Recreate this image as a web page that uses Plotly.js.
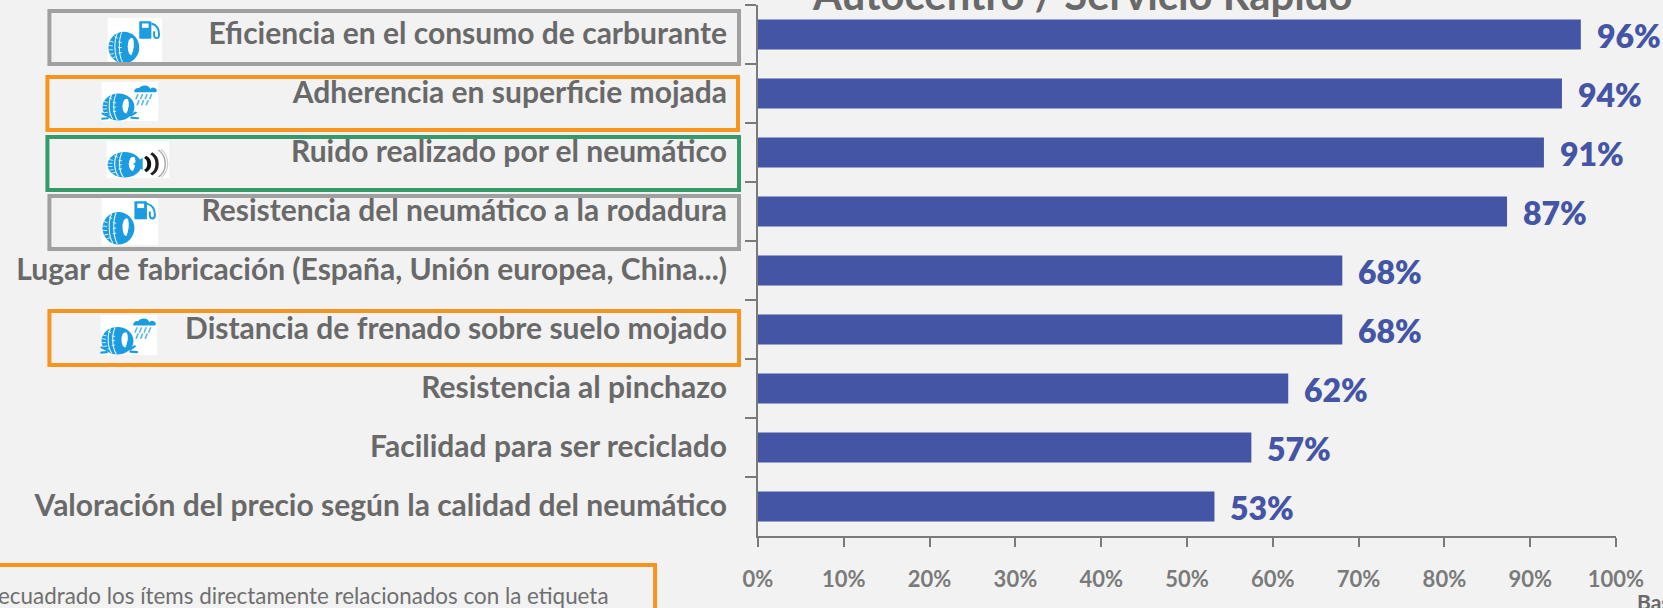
<!DOCTYPE html>
<html><head><meta charset="utf-8">
<script src="https://cdn.plot.ly/plotly-3.0.1.min.js"></script>
<style>html,body{margin:0;padding:0;background:#f2f2f2;overflow:hidden}#c{width:1663px;height:608px}</style>
</head><body><div id="c"></div>
<script>
const categories = [
  "Eficiencia en el consumo de carburante",
  "Adherencia en superficie mojada",
  "Ruido realizado por el neumático",
  "Resistencia del neumático a la rodadura",
  "Lugar de fabricación (España, Unión europea, China...)",
  "Distancia de frenado sobre suelo mojado",
  "Resistencia al pinchazo",
  "Facilidad para ser reciclado",
  "Valoración del precio según la calidad del neumático"
];
const values = [95.9, 93.7, 91.6, 87.3, 68.1, 68.1, 61.8, 57.5, 53.2];
const valueLabels = ["96%","94%","91%","87%","68%","68%","62%","57%","53%"];
const titleText = "Autocentro / Servicio Rápido";
const noteText = "ecuadrado los ítems directamente relacionados con la etiqueta";
const baseText = "Base";

const W=1663,H=608,L=758,R=1616.5,T=5,B=536;
const xp=p=>(p-L)/(R-L), yp=p=>1-(p-T)/(B-T);
const GRAY="#a0a0a0",ORANGE="#f7941d",GREEN="#359a68",TXT="#696969",BLUE="#4455a5",ICON="#1b9ce0";

const box=(x0,y0,x1,y1,c)=>({type:"rect",xref:"paper",yref:"paper",x0:xp(x0),x1:xp(x1),y0:yp(y0),y1:yp(y1),line:{color:c,width:4},fillcolor:"rgba(0,0,0,0)",layer:"above"});
const shapes=[
  box(49,11,739,64,GRAY),
  box(47,77,738,130,ORANGE),
  box(47,137,739,190,GREEN),
  box(49,196,739,249,GRAY),
  box(49,311,739,365,ORANGE),
  box(-20,565,655,640,ORANGE)
];

function tire(){
  return `<ellipse cx="30" cy="54" rx="28" ry="29" fill="${ICON}"/>`+
  `<path d="M18 28C12 40 12 68 20 80M26 26C20 40 20 68 28 82" fill="none" stroke="#fff" stroke-width="1.8"/>`+
  `<path d="M4 42l7 2M3 50l7 1M3 58l7 0M5 66l7-1M9 73l6-2M13 34l6 3M20 44l6 1M20 54l6 0M20 64l6-1" stroke="#fff" stroke-width="1.5"/>`+
  `<ellipse cx="44" cy="52" rx="7" ry="16" fill="#fff"/>`+
  `<path d="M48 38C54 46 53 62 45 68C49 58 50 46 48 38Z" fill="${ICON}" stroke="${ICON}" stroke-width="2"/>`;
}
function svg(w,h,body){
  const s=`<svg xmlns="http://www.w3.org/2000/svg" width="${w*4}" height="${h*4}" viewBox="0 0 ${w} ${h}" preserveAspectRatio="none"><rect width="${w}" height="${h}" fill="#fff"/>${body}</svg>`;
  return "data:image/svg+xml;charset=utf-8,"+encodeURIComponent(s);
}
const pump=`<rect x="58" y="6" width="22" height="32" rx="1.5" fill="${ICON}"/><rect x="63" y="10" width="12" height="8" fill="#fff"/><path d="M80 10C91 13 94 22 94 30C94 39 85 39 85 30L85 24" fill="none" stroke="${ICON}" stroke-width="3.5"/>`;
const rain=`<path d="M58 22a7 7 0 0 1 8-9a11 11 0 0 1 20 2a6 6 0 0 1 10 7Z" fill="${ICON}"/>`+
  `<path d="M64 27l-3 9M72 27l-3 9M80 27l-3 9M88 27l-3 9M66 40l-3 9M74 40l-3 9M82 40l-3 9" stroke="${ICON}" stroke-width="3" stroke-linecap="round" opacity=".7"/>`+
  `<path d="M2 68l9 5M1 79l10-1M60 66l-8 6M64 78l-11-1" stroke="${ICON}" stroke-width="4.5" stroke-linecap="round"/>`;
const sound=`<path d="M44 52L60 38V66Z" fill="${ICON}"/>`+
  `<path d="M64 36C73 42 73 62 64 68" fill="none" stroke="#111" stroke-width="6.5"/>`+
  `<path d="M74 28C87 38 87 66 74 76" fill="none" stroke="#222" stroke-width="5.5"/>`+
  `<path d="M86 20C101 36 101 68 86 82" fill="none" stroke="#aaa" stroke-width="2.5"/><path d="M90 18C105 36 105 68 90 83" fill="none" stroke="#ccc" stroke-width="2"/>`;
const icon=(x0,y0,x1,y1,src)=>({source:src,xref:"paper",yref:"paper",x:xp(x0),y:yp(y0),sizex:xp(x1)-xp(x0),sizey:yp(y0)-yp(y1),xanchor:"left",yanchor:"top",sizing:"stretch",layer:"above"});
const srcPump=svg(100,84,tire()+pump), srcRain=svg(100,84,tire()+rain), srcSound=svg(104,84,tire()+sound);
const images=[
  icon(107,18,162,64,srcPump),
  icon(101,82,158,121,srcRain),
  icon(106,141,169,178,srcSound),
  icon(101,198,158,245,srcPump),
  icon(100,315,157,355,srcRain)
];

const FONT="Lato, Carlito, Arial, sans-serif";
const annotations=values.map((v,i)=>({x:v,y:categories[i],xref:"x",yref:"y",text:valueLabels[i],showarrow:false,xanchor:"left",yanchor:"middle",xshift:14,yshift:-1,font:{family:FONT,size:32,color:BLUE,weight:800}}));
annotations.push({xref:"paper",yref:"paper",x:xp(611),y:yp(595),text:noteText,showarrow:false,xanchor:"right",yanchor:"middle",font:{family:FONT,size:22.4,color:"#6f6f6f"}});
annotations.push({xref:"paper",yref:"paper",x:xp(1636),y:yp(601),text:baseText,showarrow:false,xanchor:"left",yanchor:"middle",font:{family:FONT,size:21,color:TXT,weight:700}});

Plotly.newPlot("c",[{
  type:"bar",orientation:"h",y:categories,x:values,
  marker:{color:BLUE,line:{width:0}},hoverinfo:"skip"
}],{
  width:W,height:H,paper_bgcolor:"#f2f2f2",plot_bgcolor:"#f2f2f2",
  margin:{l:L,r:W-R,t:T,b:H-B,pad:0},showlegend:false,bargap:0.49,
  font:{family:FONT},
  title:{text:titleText,font:{family:FONT,size:41.8,color:TXT,weight:700},xref:"paper",x:xp(1083),xanchor:"center",yref:"container",y:1-10/H,yanchor:"bottom"},
  xaxis:{range:[0,100],tick0:0,dtick:10,ticksuffix:"%",showgrid:false,zeroline:false,showline:true,linecolor:"#7a7a7a",linewidth:2,ticks:"outside",ticklen:9,tickcolor:"#7a7a7a",tickwidth:1.5,ticklabelstandoff:14,tickfont:{family:FONT,size:22,color:"#7a7a7a",weight:700},fixedrange:true},
  yaxis:{type:"category",categoryorder:"array",categoryarray:categories,range:[8.5,-0.5],tickson:"boundaries",showgrid:false,zeroline:false,showline:true,linecolor:"#7a7a7a",linewidth:2,ticks:"outside",ticklen:11,tickcolor:"#7a7a7a",tickwidth:1.5,ticklabelstandoff:23,ticklabelshift:1,tickfont:{family:FONT,size:30,color:TXT,weight:700},fixedrange:true},
  shapes,images,annotations
},{displayModeBar:false,responsive:false});
</script></body></html>
